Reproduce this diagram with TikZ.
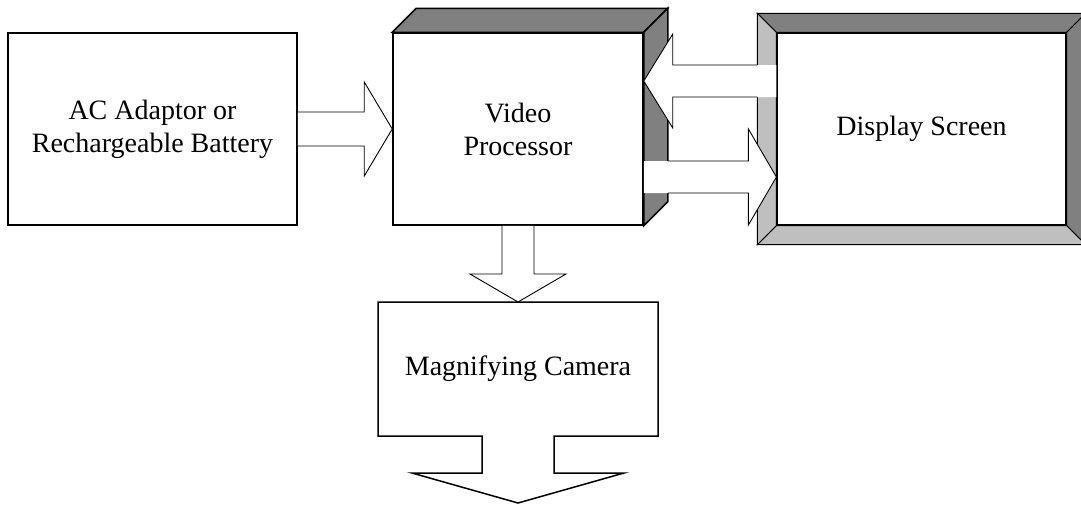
\documentclass[tikz,border=0pt]{standalone}
\usepackage{fontspec}
\setmainfont{Liberation Serif}
\usetikzlibrary{calc}

\definecolor{bevdark}{gray}{0.5}
\definecolor{bevlight}{gray}{0.75}

\tikzset{
  box/.style={draw=black, line width=1.5pt, fill=white, inner sep=0pt,
    align=center, font=\fontsize{28}{33}\selectfont},
  bevel/.style={draw=black, line width=1pt, line join=miter},
  blockfill/.style={fill=white, draw=none},
  blockline/.style={draw=black, line width=0.9pt, line join=miter},
}

\begin{document}
\begin{tikzpicture}[x=1pt,y=-1pt]
\path[use as bounding box] (0,0) rectangle (1081,506);
\begin{scope}
\clip (0,0) rectangle (1081,506);

% ---- Display screen with bevelled frame ----
\node[box, line width=1.2pt, minimum width=289pt, minimum height=192pt] (disp) at (921.5,129) {Display Screen};
\coordinate (dnw) at ($(disp.north west)+(-19,-19)$);
\coordinate (dne) at ($(disp.north east)+(19,-19)$);
\coordinate (dse) at ($(disp.south east)+(19,19)$);
\coordinate (dsw) at ($(disp.south west)+(-19,19)$);
\filldraw[bevel, fill=bevdark] (dnw) -- (dne) -- (disp.north east) -- (disp.north west) -- cycle;
\filldraw[bevel, fill=bevdark] (dne) -- (dse) -- (disp.south east) -- (disp.north east) -- cycle;
\filldraw[bevel, fill=bevlight] (dsw) -- (dse) -- (disp.south east) -- (disp.south west) -- cycle;
\filldraw[bevel, fill=bevlight] (dnw) -- (disp.north west) -- (disp.south west) -- (dsw) -- cycle;

% ---- Video processor: front face with top and side faces ----
\node[box, minimum width=250pt, minimum height=192pt] (proc) at (518,129) {Video\\Processor};
\filldraw[box, fill=bevdark] (proc.north west) -- ++(24,-24) -- ($(proc.north east)+(24,-24)$) -- (proc.north east) -- cycle;
\filldraw[box, fill=bevdark] (proc.north east) -- ++(24,-24) -- ($(proc.south east)+(24,-24)$) -- (proc.south east) -- cycle;

% ---- Power source ----
\node[box, minimum width=289pt, minimum height=192pt] (bat) at (152.5,129) {AC Adaptor or\\Rechargeable Battery};

% ---- Camera: box and outgoing arrow as one outline ----
\node[box, draw=none, fill=none, outer sep=0pt, minimum width=280pt, minimum height=134pt] (cam) at (518,369) {Magnifying Camera};
\draw[box, fill=none] (cam.south west) -- (cam.north west) -- (cam.north east) -- (cam.south east)
  -- ($(cam.south)+(36,0)$) -- ($(cam.south)+(36,37)$) -- ($(cam.south)+(106,37)$)
  -- ($(cam.south)+(0,67)$) -- ($(cam.south)+(-106,37)$) -- ($(cam.south)+(-36,37)$)
  -- ($(cam.south)+(-36,0)$) -- cycle;

% ---- Block arrow: power source -> processor ----
\fill[blockfill] ($(bat.east)+(0,-17)$) -- ($(proc.west)+(-28,-17)$) -- ($(proc.west)+(-28,-47)$)
  -- (proc.west) -- ($(proc.west)+(-28,47)$) -- ($(proc.west)+(-28,17)$) -- ($(bat.east)+(0,17)$) -- cycle;
\draw[blockline] ($(bat.east)+(0,-17)$) -- ($(proc.west)+(-28,-17)$) -- ($(proc.west)+(-28,-47)$)
  -- (proc.west) -- ($(proc.west)+(-28,47)$) -- ($(proc.west)+(-28,17)$) -- ($(bat.east)+(0,17)$);

% ---- Block arrow: display -> processor ----
\coordinate (upTip) at ($(proc.east)+(0,-48)$);
\coordinate (upEnd) at (disp.west |- upTip);
\fill[blockfill] ($(upEnd)+(0,-16)$) -- ($(upTip)+(29,-16)$) -- ($(upTip)+(29,-47)$) -- (upTip)
  -- ($(upTip)+(29,47)$) -- ($(upTip)+(29,16)$) -- ($(upEnd)+(0,16)$) -- cycle;
\draw[blockline] ($(upEnd)+(-19,-16)$) -- ($(upTip)+(29,-16)$) -- ($(upTip)+(29,-47)$) -- (upTip)
  -- ($(upTip)+(29,47)$) -- ($(upTip)+(29,16)$) -- ($(upEnd)+(-19,16)$);

% ---- Block arrow: processor -> display ----
\coordinate (lowStart) at ($(proc.east)+(0,48)$);
\coordinate (lowTip) at (disp.west |- lowStart);
\fill[blockfill] ($(lowStart)+(0,-16)$) -- ($(lowTip)+(-28,-16)$) -- ($(lowTip)+(-28,-48)$) -- (lowTip)
  -- ($(lowTip)+(-28,48)$) -- ($(lowTip)+(-28,16)$) -- ($(lowStart)+(0,16)$) -- cycle;
\draw[blockline] ($(lowStart)+(24,-16)$) -- ($(lowTip)+(-28,-16)$) -- ($(lowTip)+(-28,-48)$) -- (lowTip)
  -- ($(lowTip)+(-28,48)$) -- ($(lowTip)+(-28,16)$) -- ($(lowStart)+(24,16)$);

% ---- Block arrow: processor -> camera ----
\fill[blockfill] ($(proc.south)+(-16,0)$) -- ($(cam.north)+(-16,-28)$) -- ($(cam.north)+(-48,-28)$) -- (cam.north)
  -- ($(cam.north)+(48,-28)$) -- ($(cam.north)+(16,-28)$) -- ($(proc.south)+(16,0)$) -- cycle;
\draw[blockline] ($(proc.south)+(-16,0)$) -- ($(cam.north)+(-16,-28)$) -- ($(cam.north)+(-48,-28)$) -- (cam.north)
  -- ($(cam.north)+(48,-28)$) -- ($(cam.north)+(16,-28)$) -- ($(proc.south)+(16,0)$);

\end{scope}
\end{tikzpicture}
\end{document}
